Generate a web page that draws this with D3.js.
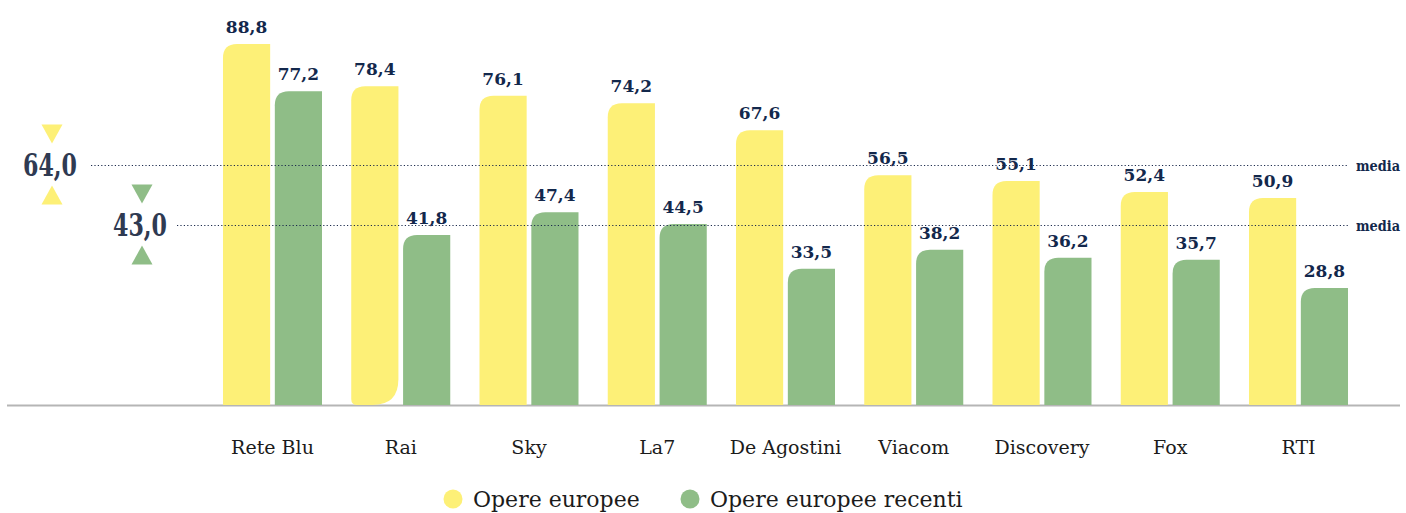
<!DOCTYPE html>
<html>
<head>
<meta charset="utf-8">
<script src="https://cdn.jsdelivr.net/npm/d3@7"></script>
<style>
  body { margin: 0; background: #fff; }
  svg { display: block; }
</style>
</head>
<body>
<div id="chart-area"></div>
<script>
// Data
var channels = ["Rete Blu", "Rai", "Sky", "La7", "De Agostini", "Viacom", "Discovery", "Fox", "RTI"];
var series = ["Opere europee", "Opere europee recenti"];
var opereEuropee = [88.8, 78.4, 76.1, 74.2, 67.6, 56.5, 55.1, 52.4, 50.9];
var opereRecenti = [77.2, 41.8, 47.4, 44.5, 33.5, 38.2, 36.2, 35.7, 28.8];
var mediaLabels = ["64,0", "43,0"];
var mediaLinePos = [59.1, 44.3];   // where the dotted lines sit on the value axis

var width = 1406, height = 513;
var baseline = 405;
var serif = "'DejaVu Serif', 'Liberation Serif', serif";

var svg = d3.select("#chart-area")
    .append("svg")
        .attr("width", width)
        .attr("height", height);

var colors = d3.scaleOrdinal()
    .domain(series)
    .range(["#fdf077", "#8fbd87"]);

// Scales
var x0 = d3.scaleBand()
    .domain(channels)
    .range([193.75, 1377.25])
    .padding(0.228);
var x1 = d3.scaleBand()
    .domain(series)
    .range([0, x0.bandwidth()])
    .paddingInner(0.09);
var y = d3.scaleLinear()
    .domain([0, 88.8])
    .range([baseline, 44]);

var fmt = function(v){ return d3.format(".1f")(v).replace(".", ","); };

var rows = channels.map(function(c, i){
    return { name: c, values: [
        { key: series[0], value: opereEuropee[i] },
        { key: series[1], value: opereRecenti[i] }
    ]};
});

// bar with top-left rounded corner (plus optional bottom corners)
function barPath(x, yTop, w, h, tl, br, bl){
    var b = yTop + h;
    return "M" + x + "," + (yTop + tl) +
        " Q" + x + "," + yTop + " " + (x + tl) + "," + yTop +
        " L" + (x + w) + "," + yTop +
        " L" + (x + w) + "," + (b - br) +
        " Q" + (x + w) + "," + b + " " + (x + w - br) + "," + b +
        " L" + (x + bl) + "," + b +
        " Q" + x + "," + b + " " + x + "," + (b - bl) + " Z";
}

// Axis baseline
svg.append("line")
    .attr("x1", 7).attr("x2", 1400)
    .attr("y1", baseline + 0.5).attr("y2", baseline + 0.5)
    .attr("stroke", "#b5b5b5")
    .attr("stroke-width", 2);

var groups = svg.selectAll("g.group")
    .data(rows)
    .enter().append("g")
        .attr("class", "group")
        .attr("transform", function(d){ return "translate(" + x0(d.name) + ",0)"; });

groups.selectAll("path")
    .data(function(d){ return d.values.map(function(v){ v.channel = d.name; return v; }); })
    .enter().append("path")
        .attr("fill", function(d){ return colors(d.key); })
        .attr("d", function(d){
            var w = x1.bandwidth();
            var h = baseline - y(d.value);
            var odd = (d.channel == "Rai" && d.key == series[0]);
            return barPath(x1(d.key), y(d.value), w, h, 14, odd ? 26 : 0, odd ? 6 : 0);
        });

// Value labels
groups.selectAll("text.val")
    .data(function(d){ return d.values; })
    .enter().append("text")
        .attr("class", "val")
        .attr("x", function(d){ return x1(d.key) + x1.bandwidth() / 2; })
        .attr("y", function(d){ return y(d.value) - 11; })
        .attr("text-anchor", "middle")
        .attr("font-family", serif)
        .attr("font-weight", "bold")
        .attr("font-size", "17px")
        .attr("fill", "#13284c")
        .text(function(d){ return fmt(d.value); });

// Category labels
var xAxisCall = d3.axisBottom(x0).tickSize(0).tickPadding(0);
var xAxis = svg.append("g")
    .attr("transform", "translate(0," + baseline + ")")
    .call(xAxisCall);
xAxis.select(".domain").remove();
xAxis.selectAll("text")
    .attr("dy", 0)
    .attr("y", 49)
    .attr("font-family", serif)
    .attr("font-size", "19px")
    .attr("fill", "#1b1b1b");

// Media lines
var mediaX = [91, 177];
var labelX = [50, 140];
mediaLabels.forEach(function(lbl, i){
    var ly = Math.round(y(mediaLinePos[i])) + 0.5;
    var col = colors(series[i]);

    svg.append("line")
        .attr("x1", mediaX[i]).attr("x2", 1348)
        .attr("y1", ly).attr("y2", ly)
        .attr("stroke", "#1c2b4d")
        .attr("stroke-width", 1.2)
        .attr("stroke-dasharray", "1.2,2.2");

    svg.append("text")
        .attr("x", 1356)
        .attr("y", ly + 5)
        .attr("font-family", serif)
        .attr("font-weight", "bold")
        .attr("font-size", "14px")
        .attr("textLength", 44)
        .attr("lengthAdjust", "spacingAndGlyphs")
        .attr("fill", "#13284c")
        .text("media");

    svg.append("text")
        .attr("x", labelX[i] - 27)
        .attr("y", ly + 10)
        .attr("font-family", serif)
        .attr("font-weight", "bold")
        .attr("font-size", "31px")
        .attr("textLength", 54)
        .attr("lengthAdjust", "spacingAndGlyphs")
        .attr("fill", "#2f3a52")
        .text(lbl);

    var cx = labelX[i] + 2;
    // down-pointing triangle above
    svg.append("path")
        .attr("d", "M" + (cx - 10.5) + "," + (ly - 41) + " L" + (cx + 10.5) + "," + (ly - 41) +
            " L" + cx + "," + (ly - 22) + " Z")
        .attr("fill", col);
    // up-pointing triangle below
    svg.append("path")
        .attr("d", "M" + (cx - 10.5) + "," + (ly + 39) + " L" + (cx + 10.5) + "," + (ly + 39) +
            " L" + cx + "," + (ly + 20) + " Z")
        .attr("fill", col);
});

// Legend
var legendX = [453, 690];
series.forEach(function(s, i){
    svg.append("circle")
        .attr("cx", legendX[i])
        .attr("cy", 499)
        .attr("r", 9.5)
        .attr("fill", colors(s));
    svg.append("text")
        .attr("x", legendX[i] + 20)
        .attr("y", 507)
        .attr("font-family", serif)
        .attr("font-size", "22px")
        .attr("fill", "#1b1b1b")
        .text(s);
});
</script>
</body>
</html>
